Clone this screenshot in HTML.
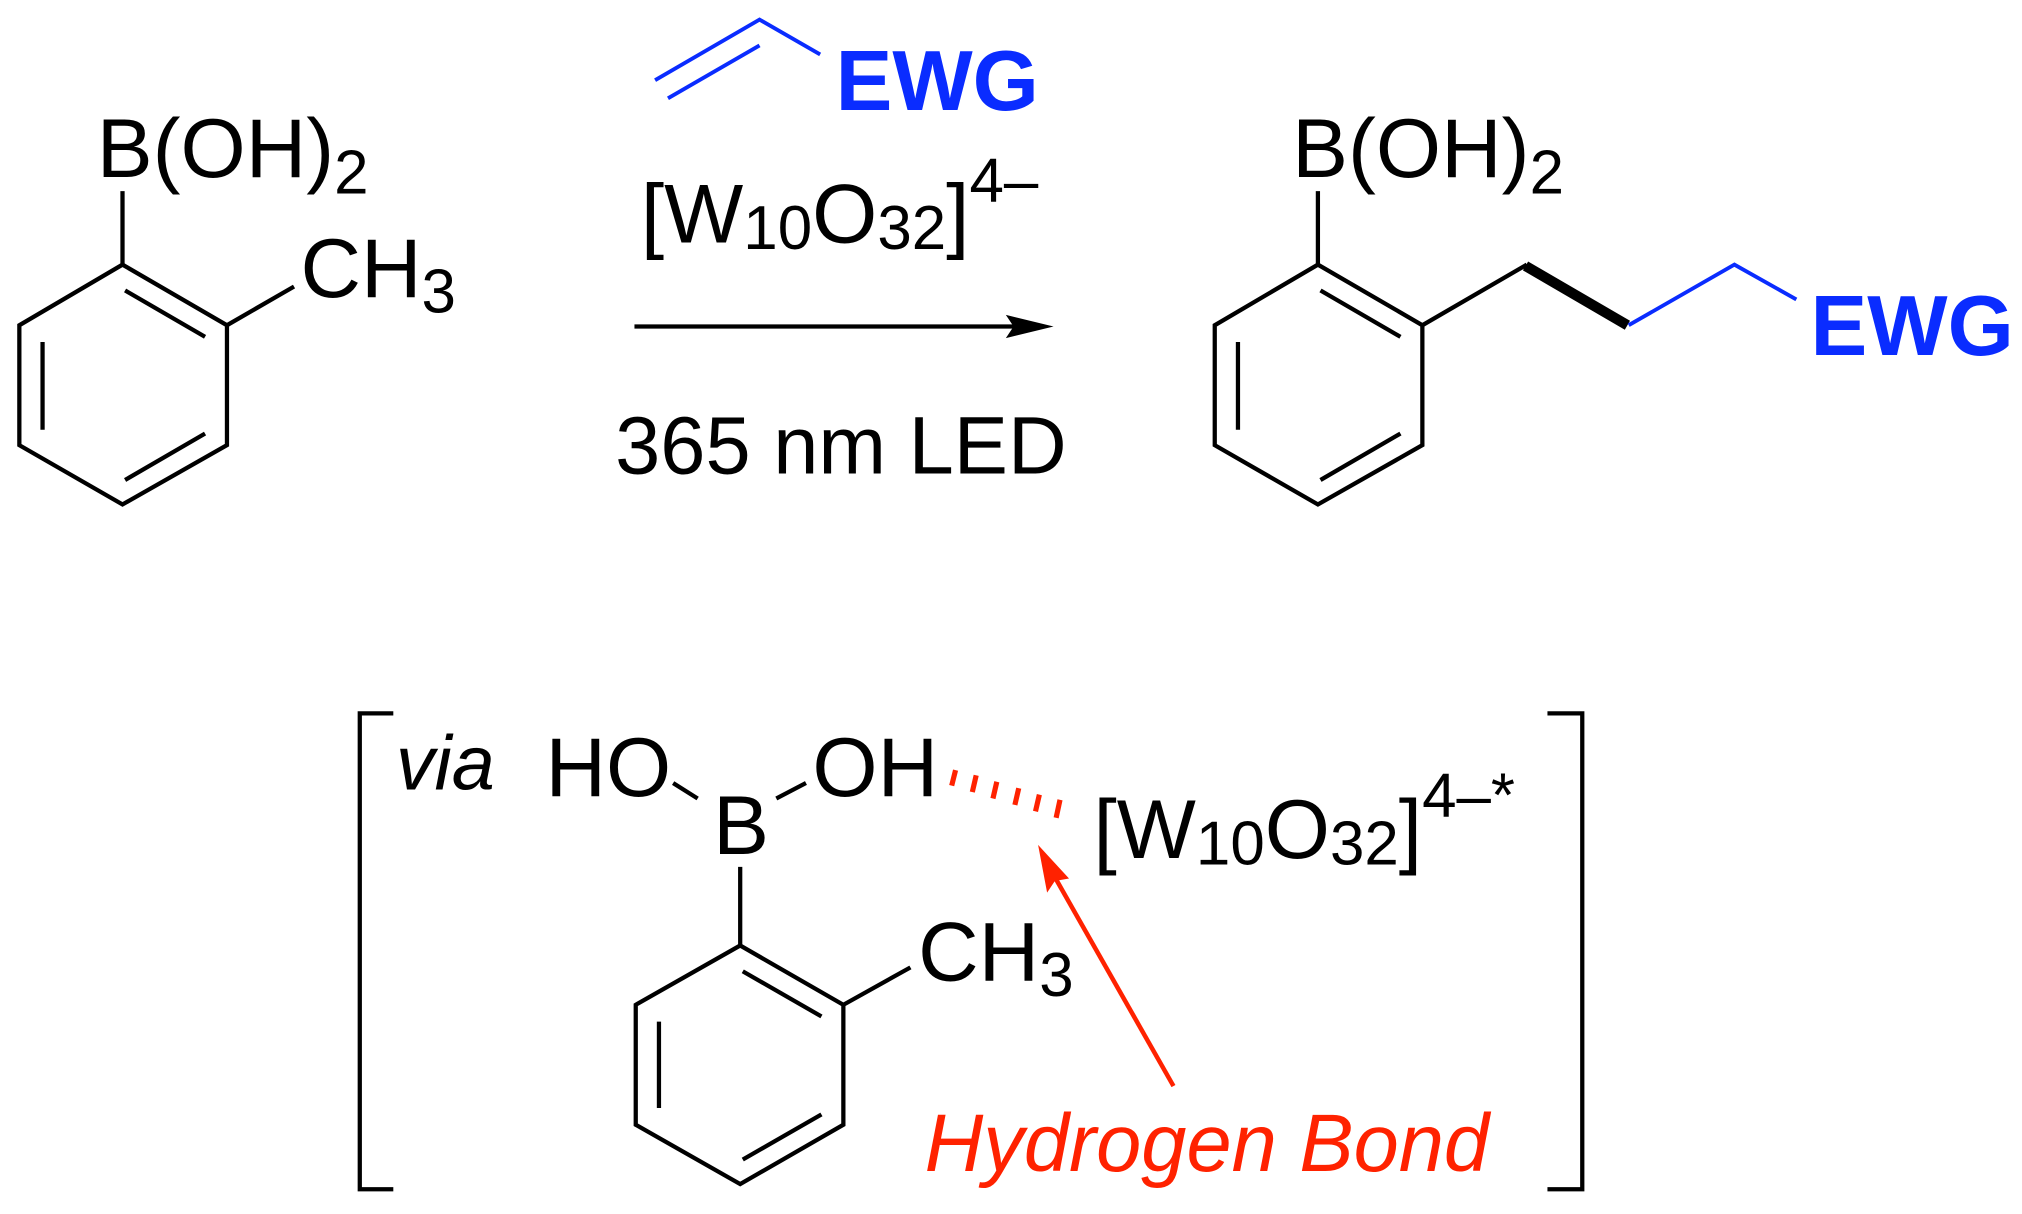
<!DOCTYPE html>
<html><head><style>html,body{margin:0;padding:0;background:#fff}svg{display:block}</style></head><body>
<svg width="2022" height="1214" viewBox="0 0 1568 941" xmlns="http://www.w3.org/2000/svg" font-family="Liberation Sans, Arial, sans-serif">
<g stroke="#000" stroke-width="3.3" fill="none" stroke-linecap="butt">
<polygon points="95,205 176,252 176,345 95,391 15,345 15,252"/>
<line x1="97" y1="225" x2="159" y2="261"/>
<line x1="33" y1="265" x2="33" y2="333"/>
<line x1="97" y1="372" x2="159" y2="336"/>
<line x1="95" y1="205" x2="95" y2="148"/>
<line x1="176" y1="252" x2="228" y2="222"/>
<line x1="492" y1="253" x2="790" y2="253"/>
<polygon points="1022,205 1103,252 1103,345 1022,391 942,345 942,252"/>
<line x1="1024" y1="225" x2="1086" y2="261"/>
<line x1="960" y1="265" x2="960" y2="333"/>
<line x1="1024" y1="372" x2="1086" y2="336"/>
<line x1="1022" y1="205" x2="1022" y2="148"/>
<line x1="1103" y1="252" x2="1184" y2="205"/>
<polygon points="574,733 654,779 654,872 574,918 493,872 493,779"/>
<line x1="576" y1="753" x2="637" y2="788"/>
<line x1="511" y1="792" x2="511" y2="859"/>
<line x1="576" y1="899" x2="637" y2="864"/>
<line x1="574" y1="672" x2="574" y2="733"/>
<line x1="654" y1="779" x2="706" y2="750"/>
<line x1="522" y1="607" x2="541" y2="619"/>
<line x1="602" y1="619" x2="625" y2="607"/>
<polyline points="305,553 279,553 279,922 305,922"/>
<polyline points="1200,553 1227,553 1227,922 1200,922"/>
</g>
<polygon points="780,244 817,253 780,262 786,253" fill="#000"/>
<line x1="1183" y1="206" x2="1262" y2="252" stroke="#000" stroke-width="8"/>
<g stroke="#0a2cff" stroke-width="3" fill="none">
<polyline points="508,62 589,15 636,42"/>
<line x1="518" y1="76" x2="589" y2="35"/>
<polyline points="1263,252 1345,205 1393,232"/>
</g>
<g stroke="#ff2200" stroke-width="4">
<line x1="741" y1="597" x2="738" y2="609"/>
<line x1="757" y1="601" x2="754" y2="614"/>
<line x1="773" y1="606" x2="770" y2="619"/>
<line x1="790" y1="611" x2="787" y2="624"/>
<line x1="806" y1="616" x2="803" y2="629"/>
<line x1="822" y1="620" x2="819" y2="634"/>
</g>
<line x1="910" y1="842" x2="818" y2="680" stroke="#ff2200" stroke-width="3.5"/>
<polygon points="805,655 829,681 818,683 812,692" fill="#ff2200"/>
<g font-size="65" fill="#000">
<text x="75" y="137">B(OH)<tspan font-size="48" dy="13">2</tspan></text>
<text x="233" y="230">CH<tspan font-size="48" dy="12">3</tspan></text>
<text x="1002" y="137">B(OH)<tspan font-size="48" dy="13">2</tspan></text>
<text x="497" y="188">[W<tspan font-size="48" dy="5">10</tspan><tspan dy="-5">O</tspan><tspan font-size="48" dy="5">32</tspan><tspan dy="-5">]</tspan><tspan font-size="48" dy="-32">4–</tspan></text>
<text x="477" y="367" font-size="63">365 nm LED</text>
<text x="307" y="612" font-style="italic" font-size="60">via</text>
<text x="423" y="617">HO</text>
<text x="553" y="662">B</text>
<text x="630" y="617">OH</text>
<text x="712" y="760">CH<tspan font-size="48" dy="12">3</tspan></text>
<text x="848" y="665">[W<tspan font-size="48" dy="5">10</tspan><tspan dy="-5">O</tspan><tspan font-size="48" dy="5">32</tspan><tspan dy="-5">]</tspan><tspan font-size="48" dy="-32">4–*</tspan></text>
</g>
<g font-size="66" font-weight="bold" fill="#0a2cff">
<text x="648" y="85">EWG</text>
<text x="1404" y="275">EWG</text>
</g>
<text x="717" y="908" font-size="63" font-style="italic" fill="#ff2200">Hydrogen Bond</text>
</svg>
</body></html>
